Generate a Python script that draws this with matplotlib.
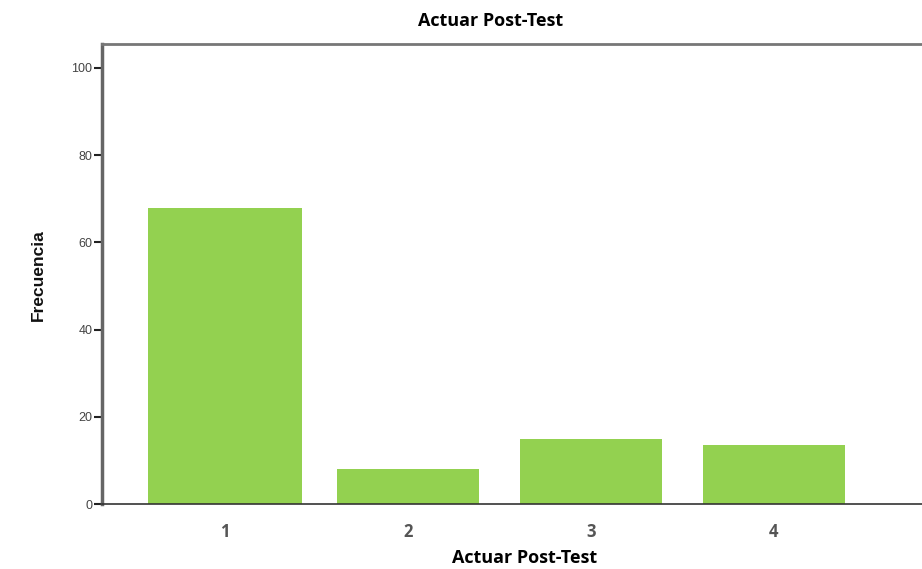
import matplotlib
matplotlib.use("Agg")
import matplotlib.pyplot as plt

categories = ["1", "2", "3", "4"]
frecuencia = [68, 8, 15, 13.5]
y_ticks = [0, 20, 40, 60, 80, 100]

fig = plt.figure(figsize=(9.22, 5.69), dpi=100)
ax = fig.add_axes([0.1106, 0.1142, 0.8894, 0.8085])

x = list(range(1, len(categories) + 1))
widths = [0.84, 0.78, 0.78, 0.78]
ax.bar(x, frecuencia, width=widths, color="#93d150", edgecolor="none", zorder=2)

ax.set_xlim(0.328, 4.809)
ax.set_ylim(0, 105.5)
ax.set_xticks(x)
ax.set_xticklabels(categories, fontsize=12, fontweight="bold", color="#555555", family="Open Sans")
ax.tick_params(axis="x", length=0, pad=14)
ax.set_yticks(y_ticks)
ax.set_yticklabels([str(t) for t in y_ticks], fontsize=9, color="#444444", family="Liberation Sans")
ax.tick_params(axis="y", direction="out", length=6, width=1.5, color="#222222", pad=1)

ax.spines["left"].set_linewidth(2.5)
ax.spines["left"].set_color("#666666")
ax.spines["top"].set_linewidth(2)
ax.spines["top"].set_color("#777777")
ax.spines["bottom"].set_linewidth(1.2)
ax.spines["bottom"].set_color("#333333")
ax.spines["right"].set_visible(False)

fig.text(0.532, 0.963, "Actuar Post-Test", ha="center", va="center", fontsize=13,
         fontweight="bold", family="Open Sans", color="black")
fig.text(0.569, 0.019, "Actuar Post-Test", ha="center", va="center", fontsize=13,
         fontweight="bold", family="Open Sans", color="black")
fig.text(0.042, 0.517, "Frecuencia", ha="center", va="center", rotation=90, fontsize=12.5,
         fontweight="bold", family="Liberation Sans", color="#111111")

fig.savefig("out.png", dpi=100, facecolor="white")
